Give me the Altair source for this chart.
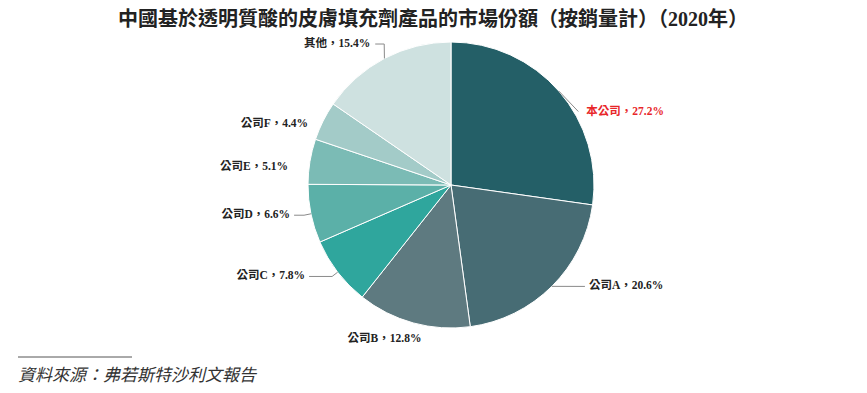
import math
import altair as alt
import pandas as pd

# ---- data ----
categories = ["本公司", "公司A", "公司B", "公司C", "公司D", "公司E", "公司F", "其他"]
shares = [27.2, 20.6, 12.8, 7.8, 6.6, 5.1, 4.4, 15.4]
slice_colors = ["#245F67", "#476C74", "#5E7A80", "#2FA69D", "#5BB0A8", "#7BBBB5", "#A3CBC8", "#CEE1E0"]
label_colors = ["#E8262A", "#222222", "#222222", "#222222", "#222222", "#222222", "#222222", "#222222"]
title_text = "中國基於透明質酸的皮膚填充劑產品的市場份額（按銷量計）（2020年）"
source_text = "資料來源：弗若斯特沙利文報告"

# ---- layout (label leader adjustments relative to each slice's mid angle) ----
label_angle_adj = [11, -8, 8, 0, 0, -2.5, -2.5, 2.4]
label_ext = [4, 25, 25, 7, 7, 7, 7, 13]
arm_len = [0, 0, 0, 23, 10, 10, 0, 9]
text_gap = [8, 4, 0, 4, 4, 4, 6, 5]
show_line = [True, True, False, True, True, False, False, True]

W, H = 851, 377
CX, CY, R = 443, 177, 143
FONT = "Liberation Serif, Noto Sans CJK TC"

total = sum(shares)
pie_df = pd.DataFrame({
    "category": categories,
    "share": shares,
    "idx": list(range(len(categories))),
})


def polar(deg, r):
    a = math.radians(deg)
    return CX + r * math.sin(a), CY - r * math.cos(a)


seg_rows, txt_rows = [], []
cum = 0.0
for i, (c, v) in enumerate(zip(categories, shares)):
    mid = (cum + v / 2) / total * 360.0
    cum += v
    ang = mid + label_angle_adj[i]
    x0, y0 = polar(mid, R)
    x1, y1 = polar(ang, R + label_ext[i])
    s = math.sin(math.radians(ang))
    co = math.cos(math.radians(ang))
    if abs(s) < 0.4 and co < 0:
        align, direction = "center", 0
    elif s > 0:
        align, direction = "left", 1
    else:
        align, direction = "right", -1
    x2 = x1 + direction * arm_len[i]
    if show_line[i]:
        seg_rows.append({"x": x0, "y": y0, "x2": x1, "y2": y1})
        if arm_len[i] > 0:
            seg_rows.append({"x": x1, "y": y1, "x2": x2, "y2": y1})
    txt_rows.append({
        "tx": x2 + direction * text_gap[i],
        "ty": y1,
        "label": f"{c}，{v}%",
        "tcolor": label_colors[i],
        "align": align,
    })

seg_df = pd.DataFrame(seg_rows)
txt_df = pd.DataFrame(txt_rows)

pie = alt.Chart(pie_df).mark_arc(radius=R, stroke="white", strokeWidth=1).encode(
    theta=alt.Theta("share:Q", stack=True),
    color=alt.Color("category:N", scale=alt.Scale(domain=categories, range=slice_colors), legend=None),
    order=alt.Order("idx:Q"),
    x=alt.value(CX),
    y=alt.value(CY),
)

leaders = alt.Chart(seg_df).mark_rule(color="#8A8A8A", strokeWidth=1).encode(
    x=alt.X("x:Q", scale=None, axis=None),
    y=alt.Y("y:Q", scale=None, axis=None),
    x2="x2:Q",
    y2="y2:Q",
)

text_layers = []
for al in ["left", "right", "center"]:
    text_layers.append(
        alt.Chart(txt_df).transform_filter(alt.datum.align == al).mark_text(
            align=al, baseline="middle", font=FONT, fontSize=11.5, fontWeight="bold"
        ).encode(
            x=alt.X("tx:Q", scale=None, axis=None),
            y=alt.Y("ty:Q", scale=None, axis=None),
            text="label:N",
            color=alt.Color("tcolor:N", scale=None),
        )
    )

title = alt.Chart(pd.DataFrame({"t": [title_text]})).mark_text(
    align="center", baseline="middle", font=FONT, fontSize=20, fontWeight="bold", color="#222222"
).encode(x=alt.value(425), y=alt.value(12), text="t:N")

src_rule = alt.Chart(pd.DataFrame({"a": [0]})).mark_rule(color="#555555", strokeWidth=1).encode(
    x=alt.value(10), x2=alt.value(124), y=alt.value(349)
)
src = alt.Chart(pd.DataFrame({"t": [source_text]})).mark_text(
    align="left", baseline="middle", font=FONT, fontSize=17, fontStyle="italic", color="#333333"
).encode(x=alt.value(10), y=alt.value(368), text="t:N")

chart = alt.layer(pie, leaders, *text_layers, title, src_rule, src).properties(
    width=W, height=H, padding=0,
    autosize=alt.AutoSizeParams(type="none"),
).configure_view(stroke=None)

chart.save("out.html", embed_options={"renderer": "svg", "actions": False})
